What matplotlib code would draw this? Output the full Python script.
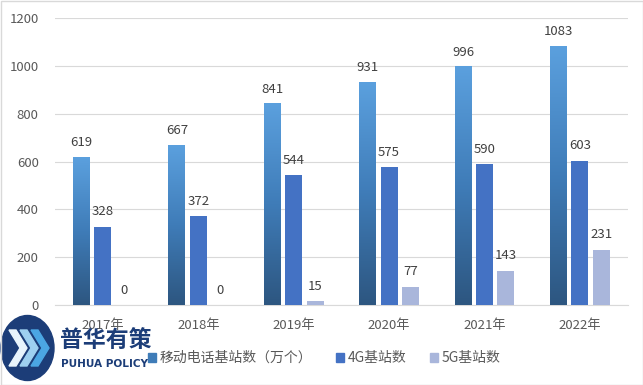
import numpy as np
import matplotlib.pyplot as plt
from matplotlib.colors import LinearSegmentedColormap
from matplotlib.patches import Ellipse, Polygon, Rectangle

plt.rcParams['font.family'] = ['Noto Sans CJK SC', 'DejaVu Sans']

years = ['2017年', '2018年', '2019年', '2020年', '2021年', '2022年']
mobile = [619, 667, 841, 931, 996, 1083]   # 移动电话基站数（万个）
g4 = [328, 372, 544, 575, 590, 603]
g5 = [0, 0, 15, 77, 143, 231]
series_names = ['移动电话基站数（万个）', '4G基站数', '5G基站数']

c_4g = '#4472C4'
c_5g = '#A9B6DB'
grad = LinearSegmentedColormap.from_list('g', ['#2D5680', '#3F7CB8', '#5BA0DE'])
text_c = '#595959'

fig = plt.figure(figsize=(6.43, 3.85), dpi=100)
ax = fig.add_axes([0.086, 0.208, 0.89, 0.745])

x = np.arange(len(years))
w = 0.178
step = 0.225

# gradient bars (first series)
bars = ax.bar(x - step, mobile, w, color='none', zorder=3)
g = np.linspace(0, 1, 256).reshape(-1, 1)
for b in bars:
    x0, y0 = b.get_x(), b.get_y()
    ax.imshow(g, cmap=grad, origin='lower', aspect='auto', zorder=3,
              extent=[x0, x0 + b.get_width(), y0, y0 + b.get_height()])
ax.bar(x, g4, w, color=c_4g, zorder=3)
ax.bar(x + step, g5, w, color=c_5g, zorder=3)

for vals, off in [(mobile, -step), (g4, 0), (g5, step)]:
    for xi, v in zip(x, vals):
        ax.annotate(str(v), (xi + off, v), xytext=(0, 6), textcoords='offset points',
                    ha='center', va='bottom', fontsize=9.5, color='#404040')

ax.set_xlim(-0.5, len(years) - 0.5)
ax.set_ylim(0, 1200)
ax.set_yticks(range(0, 1201, 200))
ax.set_xticks(x)
ax.set_xticklabels(years)
ax.tick_params(axis='both', length=0, labelsize=9.5, colors=text_c)
ax.tick_params(axis='x', pad=10)
ax.tick_params(axis='y', pad=12)
ax.grid(axis='y', color='#D9D9D9', linewidth=0.8, zorder=0)
for s in ['top', 'right', 'left']:
    ax.spines[s].set_visible(False)
ax.spines['bottom'].set_color('#D9D9D9')

# legend
handles = [Rectangle((0, 0), 1, 1, color='#3F7CB8'),
           Rectangle((0, 0), 1, 1, color=c_4g),
           Rectangle((0, 0), 1, 1, color=c_5g)]
fig.legend(handles, series_names, loc='center', bbox_to_anchor=(0.504, 0.07), ncol=3,
           frameon=False, fontsize=10, handlelength=0.6, handleheight=0.6,
           handletextpad=0.25, columnspacing=1.7, labelcolor=text_c)

# watermark logo
lax = fig.add_axes([0, 0, 1, 1], zorder=5)
lax.set_xlim(0, 643)
lax.set_ylim(385, 0)
lax.axis('off')
lax.add_patch(Ellipse((27.5, 348), 53, 65, color='#1C3D78'))
for k, col in enumerate(['#E8F4FC', '#9ED0F0', '#4BA6E3']):
    dx = k * 11
    lax.add_patch(Polygon([(9 + dx, 330), (16 + dx, 330), (27 + dx, 348), (16 + dx, 366),
                           (9 + dx, 366), (20 + dx, 348)], color=col))
lax.text(60, 340, '普华有策', fontsize=16.5, fontweight='bold', color='#1C3D78', va='center')
lax.text(61, 364, 'PUHUA POLICY', fontsize=7.6, fontweight='bold', color='#1C3D78',
         va='center', family='DejaVu Sans')
lax.add_patch(Rectangle((0.5, 0.5), 642, 384, fill=False, edgecolor='#D9D9D9', linewidth=1))

fig.savefig('out.png', dpi=100)
